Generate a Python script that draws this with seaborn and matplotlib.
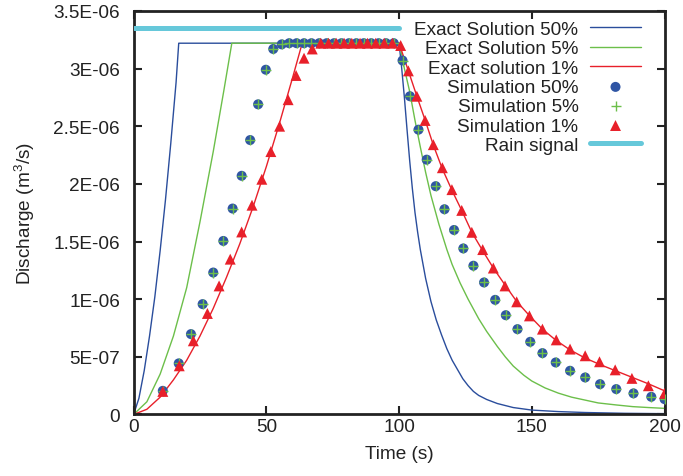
import matplotlib
matplotlib.use("Agg")
import matplotlib.pyplot as plt
import seaborn as sns
import numpy as np

# ---------------- data ----------------
# Exact solutions (time in s, discharge in 1E-06 m^3/s)
exact50_t = [0, 2, 4, 6, 8, 10, 12, 14, 16, 17, 100, 101, 102, 103, 104, 105, 106, 107,
             108, 110, 112, 114, 116, 118, 120, 122, 124, 126, 128, 130, 133, 137, 143,
             150, 160, 170, 185, 200]
exact50_q = [0, 0.14, 0.38, 0.68, 1.02, 1.42, 1.86, 2.35, 2.88, 3.22, 3.22, 3.0, 2.75,
             2.47, 2.2, 1.96, 1.75, 1.58, 1.43, 1.18, 0.98, 0.82, 0.69, 0.57, 0.47, 0.39,
             0.31, 0.25, 0.20, 0.165, 0.13, 0.095, 0.06, 0.038, 0.025, 0.017, 0.01, 0.007]

exact5_t = [0, 5, 10, 15, 20, 25, 30, 34, 37, 100, 101, 102, 104, 106, 108, 110, 112,
            115, 118, 120, 123, 126, 130, 133, 137, 140, 143, 147, 150, 155, 160, 165,
            170, 175, 182, 188, 194, 200]
exact5_q = [0, 0.11, 0.35, 0.68, 1.10, 1.67, 2.28, 2.81, 3.22, 3.22, 3.12, 3.0, 2.8,
            2.55, 2.32, 2.10, 1.90, 1.65, 1.43, 1.30, 1.14, 1.0, 0.83, 0.72, 0.59, 0.50,
            0.42, 0.34, 0.29, 0.23, 0.185, 0.15, 0.125, 0.10, 0.082, 0.068, 0.06, 0.053]

exact1_t = [0, 5, 10, 15, 20, 25, 30, 35, 40, 45, 50, 55, 60, 63.5, 100, 103.5, 106.7,
            110, 113, 116.3, 120, 124, 127.4, 131.5, 135.5, 140, 144.3, 149, 154, 159,
            164.4, 170, 176, 182, 188, 194, 200]
exact1_q = [0, 0.045, 0.15, 0.30, 0.47, 0.68, 0.92, 1.19, 1.48, 1.80, 2.15, 2.53, 2.93,
            3.22, 3.22, 2.98, 2.76, 2.54, 2.33, 2.13, 1.94, 1.75, 1.58, 1.42, 1.27, 1.12,
            0.98, 0.86, 0.74, 0.645, 0.56, 0.49, 0.43, 0.375, 0.32, 0.265, 0.205]

# Simulations
sim50_t = [11.0, 17.0, 21.6, 26.0, 30.0, 33.8, 37.3, 40.7, 43.9, 46.9, 49.8, 52.6,
           55.8, 58.6, 61.4, 64.2, 67.0, 69.9, 72.7, 75.5, 78.3, 81.1, 83.9, 86.7,
           89.5, 92.3, 95.1, 98.0,
           101.3, 104.1, 107.3, 110.4, 113.8, 117.1, 120.7, 124.2, 128.0, 132.0, 136.2,
           140.2, 144.6, 149.4, 154.0, 159.0, 164.4, 170.1, 175.7, 181.8, 188.3, 195.0,
           200.0]
sim50_q = [0.205, 0.443, 0.697, 0.957, 1.231, 1.505, 1.786, 2.07, 2.38, 2.69, 2.99, 3.17,
           3.21, 3.22, 3.22, 3.22, 3.22, 3.22, 3.22, 3.22, 3.22, 3.22, 3.22, 3.22,
           3.22, 3.22, 3.22, 3.22,
           3.07, 2.76, 2.47, 2.21, 1.98, 1.78, 1.60, 1.44, 1.29, 1.145, 0.994,
           0.861, 0.74, 0.63, 0.532, 0.451, 0.379, 0.321, 0.263, 0.22, 0.183, 0.153,
           0.133]
# Simulation 5% coincides with Simulation 50%
sim5_t = list(sim50_t)
sim5_q = list(sim50_q)

sim1_t = [11.0, 17.2, 22.5, 27.8, 32.2, 36.4, 40.7, 44.6, 48.3, 51.7, 55.0, 58.2, 61.2,
          64.2, 67.3, 70.5, 73.4, 76.3, 79.3, 82.2, 85.3, 88.1, 91.2, 94.4, 97.5, 100.6,
          103.5, 106.7, 109.8, 112.9, 116.3, 119.9, 123.6, 127.4, 131.5, 135.5, 139.9,
          144.3, 149.1, 154.0, 159.2, 164.4, 170.1, 175.5, 181.4, 187.7, 193.9, 200.0]
sim1_q = [0.20, 0.422, 0.639, 0.876, 1.115, 1.347, 1.583, 1.815, 2.04, 2.28, 2.50, 2.73,
          2.94, 3.09, 3.17, 3.22, 3.22, 3.22, 3.22, 3.22, 3.22, 3.22, 3.22, 3.22, 3.22,
          3.20, 2.98, 2.76, 2.55, 2.34, 2.14, 1.95, 1.77, 1.58, 1.43, 1.27, 1.115,
          0.977, 0.855, 0.74, 0.647, 0.567, 0.509, 0.457, 0.387, 0.313, 0.249, 0.183]

rain_t = [0, 100]
rain_q = [3.35, 3.35]

scale = 1e-6
yticks = [0, 0.5, 1.0, 1.5, 2.0, 2.5, 3.0, 3.5]
ytick_labels = ["0", "5E-07", "1E-06", "1.5E-06", "2E-06", "2.5E-06", "3E-06", "3.5E-06"]
xticks = [0, 50, 100, 150, 200]

# ---------------- style ----------------
sns.set_theme(style="white")
plt.rcParams["font.family"] = ["Liberation Sans", "DejaVu Sans"]
plt.rcParams["mathtext.fontset"] = "custom"
plt.rcParams["mathtext.rm"] = "Liberation Sans"
plt.rcParams["mathtext.it"] = "Liberation Sans:italic"
FS = 13.7
TXT = "#222222"

c_blue = "#2a4d9c"
c_green = "#6cbf4a"
c_red = "#e8202a"
c_dot = "#2f55a4"
c_rain = "#66c8da"

fig = plt.figure(figsize=(6.83, 4.77), dpi=100)
ax = fig.add_axes([0.1956, 0.129, 0.7774, 0.846])

def sc(v):
    return [x * scale for x in v]

sns.lineplot(x=exact50_t, y=sc(exact50_q), ax=ax, color=c_blue, lw=1.0, sort=False,
             estimator=None, label="Exact Solution 50%")
sns.lineplot(x=exact5_t, y=sc(exact5_q), ax=ax, color=c_green, lw=1.0, sort=False,
             estimator=None, label="Exact Solution 5%")
sns.lineplot(x=exact1_t, y=sc(exact1_q), ax=ax, color=c_red, lw=1.0, sort=False,
             estimator=None, label="Exact solution 1%")
sns.scatterplot(x=sim50_t, y=sc(sim50_q), ax=ax, color=c_dot, marker="o", s=52,
                edgecolor="none", label="Simulation 50%", zorder=4)
sns.scatterplot(x=sim5_t, y=sc(sim5_q), ax=ax, color=c_green, marker="+", s=44,
                linewidth=1.0, label="Simulation 5%", zorder=5)
sns.scatterplot(x=sim1_t, y=sc(sim1_q), ax=ax, color=c_red, marker="^", s=62,
                edgecolor="none", label="Simulation 1%", zorder=6)
sns.lineplot(x=rain_t, y=sc(rain_q), ax=ax, color=c_rain, lw=3.6, sort=False,
             estimator=None, label="Rain signal", zorder=3)

ax.set_xlim(0, 200)
ax.set_ylim(0, 3.5e-6)
ax.set_xticks(xticks)
ax.set_xticklabels([str(v) for v in xticks], fontsize=FS)
ax.set_yticks([v * scale for v in yticks])
ax.set_yticklabels(ytick_labels, fontsize=FS)
ax.tick_params(direction="in", length=6, width=1.5, top=True, right=True,
               bottom=True, left=True, colors=TXT)
ax.tick_params(axis="x", pad=2.5)
ax.tick_params(axis="y", pad=9.8)
for sp in ax.spines.values():
    sp.set_linewidth(2.0)
    sp.set_color(TXT)
ax.grid(False)

ax.set_xlabel("Time (s)", fontsize=FS, color=TXT, labelpad=7)
ax.set_ylabel("Discharge (m$^{\\mathregular{3}}$/s)", fontsize=FS, color=TXT, labelpad=12)

handles, labels = ax.get_legend_handles_labels()
leg = ax.legend(handles, labels, loc="upper right", bbox_to_anchor=(0.956, 0.976),
                markerfirst=False, frameon=False, fontsize=FS, handlelength=2.7,
                handletextpad=0.6, labelspacing=0.105, borderpad=0, borderaxespad=0)
for t in leg.get_texts():
    t.set_color(TXT)

fig.savefig("out.png", dpi=100)
